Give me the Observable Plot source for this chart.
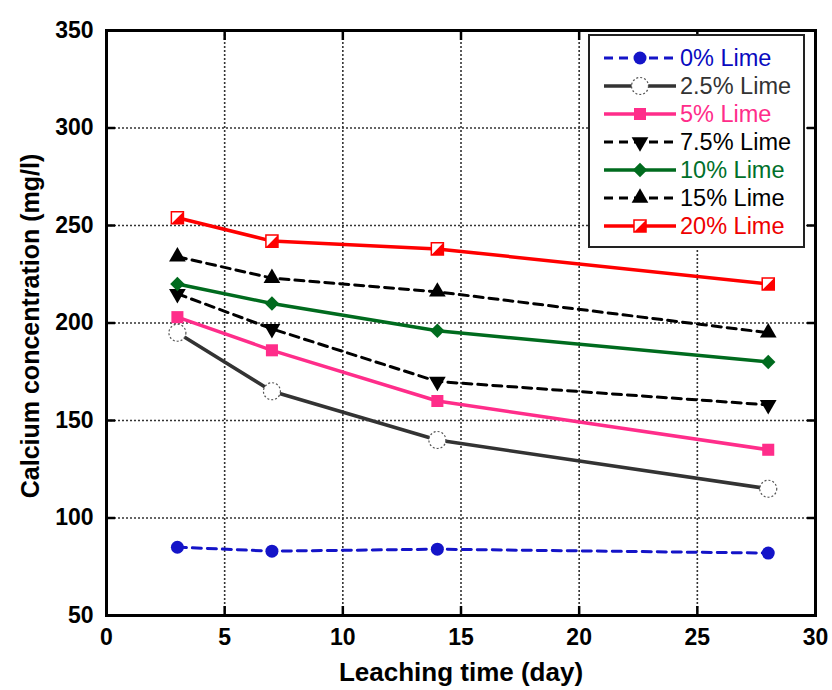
<!DOCTYPE html>
<html>
<head>
<meta charset="utf-8">
<script src="https://cdn.jsdelivr.net/npm/d3@7"></script>
<script src="https://cdn.jsdelivr.net/npm/@observablehq/plot@0.6"></script>
<style>
  html, body { margin: 0; padding: 0; background: #fff; }
  #wrap { position: relative; width: 832px; height: 690px; font-family: Arial, "Liberation Sans", sans-serif; }
  #legend { position: absolute; left: 588px; top: 34px; width: 213px; height: 210px; border: 2px solid #222; background: #fff; box-sizing: content-box; }
  .row { position: absolute; left: 0; height: 28px; display: flex; align-items: center; }
  .row span { font-size: 23.5px; margin-left: 2px; white-space: nowrap; }
</style>
</head>
<body>
<div id="wrap"><div id="legend"></div></div>
<script>
const days = [3, 7, 14, 28];
const seriesNames = ["0% Lime", "2.5% Lime", "5% Lime", "7.5% Lime", "10% Lime", "15% Lime", "20% Lime"];
const lime0 = [85, 83, 84, 82];
const lime2_5 = [195, 165, 140, 115];
const lime5 = [203, 186, 160, 135];
const lime7_5 = [215, 197, 170, 158];
const lime10 = [220, 210, 196, 180];
const lime15 = [234, 223, 216, 195];
const lime20 = [254, 242, 238, 220];
const xTicks = [0, 5, 10, 15, 20, 25, 30];
const yTicks = [50, 100, 150, 200, 250, 300, 350];
const xLabel = "Leaching time (day)";
const yLabel = "Calcium concentration (mg/l)";

const values = [lime0, lime2_5, lime5, lime7_5, lime10, lime15, lime20];
const rows = seriesNames.flatMap((s, i) => days.map((d, j) => ({series: s, day: d, value: values[i][j]})));

const halfSquare = {
  draw(context, size) {
    const s = Math.sqrt(size) / 2;
    context.moveTo(s, -s);
    context.lineTo(s, s);
    context.lineTo(-s, s);
    context.closePath();
  }
};

const styles = [
  {line: "#1414c8", dash: "9,6", w: 3, sym: "circle", fill: "#1414c8", stroke: "none", r: 6.5, text: "#0a0abf"},
  {line: "#333333", dash: null, w: 3.5, sym: "circle", fill: "#ffffff", stroke: "#555", sdash: "2,2", r: 8.5, text: "#333333"},
  {line: "#ff2d8a", dash: null, w: 3.5, sym: "square", fill: "#ff2d8a", stroke: "none", r: 6.8, text: "#ff2d8a"},
  {line: "#000000", dash: "9,6", w: 3, sym: "triangle", rotate: 180, fill: "#000", stroke: "none", r: 6.2, text: "#000000"},
  {line: "#006b1e", dash: null, w: 3.5, sym: "diamond2", fill: "#006b1e", stroke: "none", r: 6.5, text: "#00702a"},
  {line: "#000000", dash: "9,6", w: 3, sym: "triangle", rotate: 0, fill: "#000", stroke: "none", r: 6.2, text: "#000000"},
  {line: "#ff0000", dash: null, w: 3.5, sym: "square", fill: "#fff", stroke: "#ff0000", r: 6.8, half: true, text: "#ee0000"}
];

const marks = [
  Plot.gridX(xTicks, {stroke: "#333", strokeOpacity: 1, strokeWidth: 1.6, strokeDasharray: "2,2"}),
  Plot.gridY(yTicks, {stroke: "#333", strokeOpacity: 1, strokeWidth: 1.6, strokeDasharray: "2,2"})
];
seriesNames.forEach((s, i) => {
  const st = styles[i];
  marks.push(Plot.line(rows.filter(d => d.series === s), {x: "day", y: "value", stroke: st.line, strokeWidth: st.w, strokeDasharray: st.dash}));
});
seriesNames.forEach((s, i) => {
  const st = styles[i];
  const data = rows.filter(d => d.series === s);
  marks.push(Plot.dot(data, {x: "day", y: "value", symbol: st.sym, r: st.r, fill: st.fill, stroke: st.stroke, strokeWidth: st.half ? 1.5 : 1.2, strokeDasharray: st.sdash, rotate: st.rotate || 0}));
  if (st.half) marks.push(Plot.dot(data, {x: "day", y: "value", symbol: halfSquare, r: st.r, fill: st.line, stroke: "none"}));
});
marks.push(
  Plot.frame({stroke: "#000", strokeWidth: 3}),
  Plot.axisX(xTicks, {anchor: "bottom", tickSize: -9, tickPadding: 22, strokeWidth: 2.5, fontSize: 23, fontWeight: "bold", label: null}),
  Plot.axisX(xTicks, {anchor: "top", tickSize: -9, tickFormat: () => "", strokeWidth: 2.5, label: null}),
  Plot.axisY(yTicks, {anchor: "left", tickSize: -9, tickPadding: 22, strokeWidth: 2.5, fontSize: 23, fontWeight: "bold", label: null}),
  Plot.axisY(yTicks, {anchor: "right", tickSize: -9, tickFormat: () => "", strokeWidth: 2.5, label: null}),
  Plot.text([xLabel], {frameAnchor: "bottom", dy: 57, lineAnchor: "middle", fontSize: 26, fontWeight: "bold", fill: "#000"}),
  Plot.text([yLabel], {frameAnchor: "left", rotate: -90, textAnchor: "middle", lineAnchor: "middle", dx: -76, dy: 3, fontSize: 25, fontWeight: "bold", fill: "#000"})
);

const chart = Plot.plot({
  width: 832,
  height: 690,
  marginLeft: 106,
  marginRight: 17,
  marginTop: 30,
  marginBottom: 75,
  style: {fontFamily: "Arial, 'Liberation Sans', sans-serif", background: "#fff", color: "#000"},
  x: {domain: [0, 30]},
  y: {domain: [50, 350]},
  marks
});
document.getElementById("wrap").prepend(chart);

// Legend
const legend = d3.select("#legend");
seriesNames.forEach((s, i) => {
  const st = styles[i];
  const row = legend.append("div").attr("class", "row").style("top", (8 + i * 28) + "px").style("left", "12px");
  const svg = row.append("svg").attr("width", 76).attr("height", 24);
  svg.append("line").attr("x1", 2).attr("x2", 74).attr("y1", 12).attr("y2", 12)
    .attr("stroke", st.line).attr("stroke-width", st.w).attr("stroke-dasharray", st.dash);
  const symMap = {circle: d3.symbolCircle, square: d3.symbolSquare, triangle: d3.symbolTriangle, diamond2: d3.symbolDiamond2};
  const size = Math.PI * st.r * st.r;
  svg.append("path").attr("d", d3.symbol(symMap[st.sym], size)())
    .attr("transform", `translate(38,12) rotate(${st.rotate || 0})`)
    .attr("fill", st.fill).attr("stroke", st.stroke).attr("stroke-width", st.half ? 1.5 : 1.2)
    .attr("stroke-dasharray", st.sdash || null);
  if (st.half) svg.append("path").attr("d", d3.symbol(halfSquare, size)()).attr("transform", "translate(38,12)").attr("fill", st.line);
  row.append("span").text(s).style("color", st.text);
});
</script>
</body>
</html>
